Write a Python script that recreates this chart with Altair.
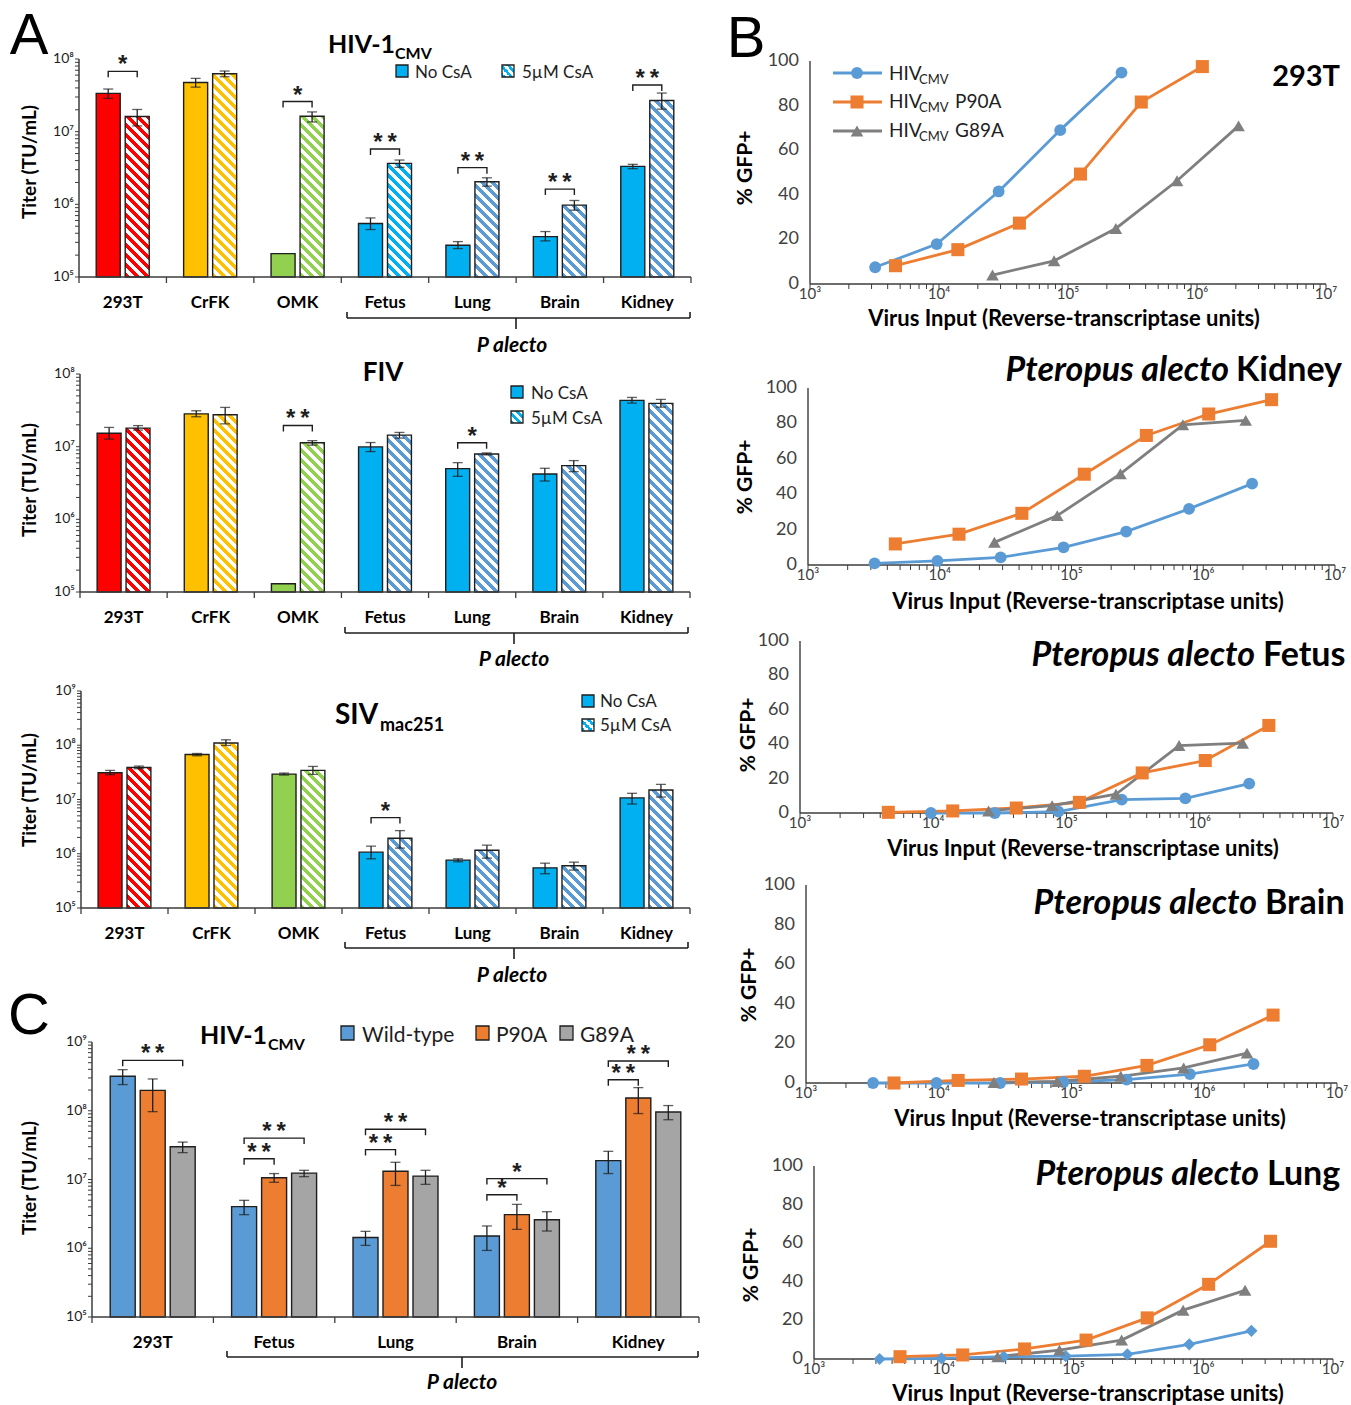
import math
import altair as alt
import pandas as pd

W, H = 1351, 1405
FONT = "Lato"
STAR_FONT = "Liberation Sans"
INK = "#1e1e1e"
AXIS_INK = "#3c3c3c"
SUP = "⁰¹²³⁴⁵⁶⁷⁸⁹"

# ------------------------------------------------------------------ panel A
cells_a = ["293T", "CrFK", "OMK", "Fetus", "Lung", "Brain", "Kidney"]
csa_groups = ["No CsA", "5µM CsA"]
solid_a = ["#FF0000", "#FFC000", "#92D050", "#00B0F0", "#00B0F0", "#00B0F0", "#00B0F0"]
hatch_hiv = ["#FF0000", "#FFC000", "#92D050", "#00B0F0", "#5B9BD5", "#5B9BD5", "#5B9BD5"]
hatch_other = ["#FF0000", "#FFC000", "#92D050", "#5B9BD5", "#5B9BD5", "#5B9BD5", "#5B9BD5"]

# HIV-1 CMV
hiv_no = [3.36e7, 4.76e7, 2.1e5, 5.45e5, 2.73e5, 3.6e5, 3.33e6]
hiv_no_lo = [2.87e7, 4.1e7, None, 4.5e5, 2.46e5, 3.14e5, 3.1e6]
hiv_no_hi = [3.86e7, 5.41e7, None, 6.5e5, 3.07e5, 4.22e5, 3.55e6]
hiv_csa = [1.62e7, 6.27e7, 1.63e7, 3.66e6, 2.05e6, 9.75e5, 2.69e7]
hiv_csa_lo = [1.2e7, 5.7e7, 1.36e7, 3.23e6, 1.78e6, 8.3e5, 2.04e7]
hiv_csa_hi = [2.02e7, 6.83e7, 1.87e7, 4.07e6, 2.32e6, 1.13e6, 3.4e7]
hiv_sig_cells = ["293T", "OMK", "Fetus", "Lung", "Brain", "Kidney"]
hiv_sig_marks = ["*", "*", "**", "**", "**", "**"]
hiv_sig_level = [6.76e7, 2.6e7, 5.78e6, 3.2e6, 1.62e6, 4.38e7]

# FIV
fiv_no = [1.53e7, 2.83e7, 1.3e5, 9.93e6, 4.99e6, 4.21e6, 4.33e7]
fiv_no_lo = [1.27e7, 2.58e7, None, 8.56e6, 3.91e6, 3.37e6, 3.98e7]
fiv_no_hi = [1.84e7, 3.12e7, None, 1.14e7, 6.03e6, 5.04e6, 4.76e7]
fiv_csa = [1.8e7, 2.75e7, 1.13e7, 1.44e7, 7.94e6, 5.48e6, 3.94e7]
fiv_csa_lo = [1.69e7, 2.06e7, 1.05e7, 1.31e7, 7.7e6, 4.53e6, 3.5e7]
fiv_csa_hi = [1.95e7, 3.47e7, 1.21e7, 1.57e7, 8.2e6, 6.43e6, 4.47e7]
fiv_sig_cells = ["OMK", "Lung"]
fiv_sig_marks = ["**", "*"]
fiv_sig_level = [1.96e7, 1.13e7]

# SIV mac251
siv_no = [3.11e7, 6.76e7, 2.94e7, 1.07e6, 7.62e5, 5.5e5, 1.07e7]
siv_no_lo = [2.86e7, 6.4e7, 2.82e7, 8.07e5, 7.1e5, 4.28e5, 8.26e6]
siv_no_hi = [3.44e7, 7.05e7, 3.07e7, 1.38e6, 8.07e5, 6.7e5, 1.3e7]
siv_csa = [3.9e7, 1.1e8, 3.44e7, 1.93e6, 1.16e6, 6.0e5, 1.5e7]
siv_csa_lo = [3.69e7, 9.9e7, 2.9e7, 1.27e6, 8.3e5, 5.0e5, 1.11e7]
siv_csa_hi = [4.13e7, 1.26e8, 4.07e7, 2.67e6, 1.44e6, 7.0e5, 1.9e7]
siv_sig_cells = ["Fetus"]
siv_sig_marks = ["*"]
siv_sig_level = [4.64e6]

# ------------------------------------------------------------------ panel C
cells_c = ["293T", "Fetus", "Lung", "Brain", "Kidney"]
capsid = ["Wild-type", "P90A", "G89A"]
capsid_colors = ["#5B9BD5", "#ED7D31", "#A5A5A5"]
wt_titer = [3.17e8, 4.03e6, 1.43e6, 1.51e6, 1.88e7]
wt_lo = [2.4e8, 3.08e6, 1.1e6, 9.3e5, 1.22e7]
wt_hi = [3.96e8, 4.98e6, 1.76e6, 2.11e6, 2.57e7]
p90a_titer = [1.98e8, 1.06e7, 1.32e7, 3.08e6, 1.53e8]
p90a_lo = [9.7e7, 9.1e6, 8.2e6, 1.88e6, 9.1e7]
p90a_hi = [2.9e8, 1.22e7, 1.78e7, 4.35e6, 2.17e8]
g89a_titer = [3.0e7, 1.24e7, 1.12e7, 2.6e6, 9.6e7]
g89a_lo = [2.46e7, 1.1e7, 8.5e6, 1.78e6, 7.4e7]
g89a_hi = [3.5e7, 1.36e7, 1.36e7, 3.4e6, 1.19e8]
c_sig_cells = ["293T", "Fetus", "Fetus", "Lung", "Lung", "Brain", "Brain", "Kidney", "Kidney"]
c_sig_to = ["G89A", "P90A", "G89A", "P90A", "G89A", "P90A", "G89A", "P90A", "G89A"]
c_sig_marks = ["**", "**", "**", "**", "**", "*", "*", "**", "**"]
c_sig_level = [5.41e8, 2.0e7, 4.0e7, 2.72e7, 5.37e7, 6.0e6, 1.03e7, 2.83e8, 5.3e8]

# ------------------------------------------------------------------ panel B
rt_wt = [3.2e3, 9.6e3, 2.9e4, 8.7e4, 2.6e5, 7.8e5, 2.35e6]
rt_p90 = [4.6e3, 1.4e4, 4.2e4, 1.25e5, 3.7e5, 1.1e6, 3.3e6]
rt_g89 = [2.6e4, 7.8e4, 2.35e5, 7.0e5, 2.1e6]

gfp_293t_wt = [7.5, 17.9, 41.5, 69.0, 94.8]
gfp_293t_p90 = [8.2, 15.4, 27.3, 49.3, 81.6, 97.5]
gfp_293t_g89 = [4.0, 10.4, 24.9, 46.3, 70.9]
gfp_kid_wt = [0.9, 2.3, 4.3, 10.0, 18.9, 31.7, 46.0]
gfp_kid_p90 = [11.9, 17.4, 29.2, 51.3, 73.2, 85.3, 93.4]
gfp_kid_g89 = [12.8, 27.9, 51.5, 79.2, 81.7]
gfp_fet_wt = [0.0, 0.0, 0.8, 7.8, 8.5, 17.1]
gfp_fet_p90 = [0.4, 1.2, 2.9, 6.2, 23.3, 30.5, 50.9]
gfp_fet_g89 = [1.2, 4.3, 10.9, 39.2, 40.6]
gfp_bra_wt = [0.0, 0.0, 0.0, 0.5, 1.7, 4.5, 9.6]
gfp_bra_p90 = [0.0, 1.3, 2.0, 3.4, 8.9, 19.3, 34.3]
gfp_bra_g89 = [0.3, 0.8, 3.4, 7.6, 15.1]
gfp_lun_wt = [0.0, 0.3, 1.2, 1.5, 2.4, 7.6, 14.6]
gfp_lun_p90 = [1.2, 2.1, 5.2, 9.8, 21.3, 38.7, 61.0]
gfp_lun_g89 = [1.2, 4.6, 9.8, 25.3, 35.6]

BLUE, ORANGE, GREY = "#5B9BD5", "#ED7D31", "#7F7F7F"


def hatch(color, w, h, period=10.0, duty=0.5):
    """Diagonal stripes (top-left to bottom-right) as a hard-stop linear gradient."""
    total = w + h
    k = total / (w * w + h * h)
    stops = []
    i = 0
    while i * period < total:
        a = i * period / total
        b = min((i + duty) * period / total, 1.0)
        c = min((i + 1) * period / total, 1.0)
        stops += [{"offset": a, "color": color}, {"offset": b, "color": color},
                  {"offset": b, "color": "white"}, {"offset": c, "color": "white"}]
        i += 1
    return {"gradient": "linear", "x1": 0, "y1": 1, "x2": k * w, "y2": 1 - k * h, "stops": stops}


def bar_panel(cats, groups, rows, brackets, geo):
    x0, x1 = geo["x"]
    ybot, ytop = geo["y"]
    dmin, dmax = geo["domain"]
    pin, pout = geo["pad"]
    step = (x1 - x0) / len(cats)
    sub = step / (len(groups) - pin + 2 * pout)
    bar_w = sub * (1 - pin)
    per_dec = (ybot - ytop) / (math.log10(dmax) - math.log10(dmin))

    xs = alt.Scale(domain=cats, range=[x0, x1], paddingInner=0, paddingOuter=0)
    ys = alt.Scale(type="log", domain=[dmin, dmax], range=[ybot, ytop], nice=False)
    offs = alt.Scale(domain=groups, paddingInner=pin, paddingOuter=pout)

    def ex(field="cat", band=None):
        if band is None:
            return alt.X(f"{field}:N", scale=xs, axis=None)
        return alt.X(f"{field}:N", scale=xs, axis=None, bandPosition=band)

    def eo(field="grp"):
        return alt.XOffset(f"{field}:N", scale=offs)

    def ey(field):
        return alt.Y(f"{field}:Q", scale=ys, axis=None)

    df = pd.DataFrame(rows)
    df["base"] = dmin
    layers = []
    solid = df[df["hatch"] == ""]
    layers.append(
        alt.Chart(solid).mark_bar(stroke=INK, strokeWidth=1.4).encode(
            x=ex(), xOffset=eo(), y=ey("v"), y2=alt.Y2("base:Q"),
            fill=alt.Fill("color:N", scale=None)))
    for r in df[df["hatch"] != ""].to_dict("records"):
        h = (math.log10(r["v"]) - math.log10(dmin)) * per_dec
        layers.append(
            alt.Chart(pd.DataFrame([r])).mark_bar(
                fill=hatch(r["hatch"], bar_w, h), stroke=INK, strokeWidth=1.4).encode(
                x=ex(), xOffset=eo(), y=ey("v"), y2=alt.Y2("base:Q")))

    # error bars
    err = df.dropna(subset=["lo"])
    layers.append(
        alt.Chart(err).mark_rule(color=INK, strokeWidth=1.3).encode(
            x=ex(), xOffset=eo(), y=ey("lo"), y2=alt.Y2("hi:Q")))
    caps = pd.concat([err[["cat", "grp"]].assign(yv=err["lo"]),
                      err[["cat", "grp"]].assign(yv=err["hi"])])
    layers.append(
        alt.Chart(caps).mark_tick(color=INK, thickness=1.3, size=10).encode(
            x=ex(), xOffset=eo(), y=ey("yv")))

    # significance brackets
    drop = 10 ** (6.0 / per_dec)
    pts, marks = [], []
    for i, (cat, g1, g2, level, label) in enumerate(brackets):
        for s, (g, yv) in enumerate([(g1, level / drop), (g1, level), (g2, level), (g2, level / drop)]):
            pts.append(dict(bid=i, seq=s, cat=cat, grp=g, yv=yv))
        marks.append(dict(cat=cat, g1=g1, lvl=level, mark=label.replace("**", "*\u2009*"),
                          span=groups.index(g2) - groups.index(g1)))
    layers.append(
        alt.Chart(pd.DataFrame(pts)).mark_line(color=INK, strokeWidth=1.4).encode(
            x=ex(), xOffset=eo(), y=ey("yv"), detail="bid:N", order="seq:Q"))
    mdf = pd.DataFrame(marks)
    for span in sorted(mdf["span"].unique()):
        part = mdf[mdf["span"] == span]
        layers.append(
            alt.Chart(part).mark_text(font=STAR_FONT, fontSize=24, fontWeight="bold", color=INK,
                                      baseline="alphabetic", dy=1, dx=float(span) * sub / 2).encode(
                x=ex(), xOffset=eo("g1"), y=ey("lvl"), text="mark:N"))

    # value axis: domain, log ticks, decade labels
    k_lo, k_hi = round(math.log10(dmin)), round(math.log10(dmax))
    tick_vals = [m * 10 ** k for k in range(k_lo, k_hi) for m in range(1, 10)] + [10 ** k_hi]
    dom = pd.DataFrame({"a": [dmin], "b": [dmax]})
    layers.append(alt.Chart(pd.DataFrame({"tv": tick_vals})).mark_rule(
        color=AXIS_INK, strokeWidth=1).encode(x=alt.value(x0 - 4), x2=alt.value(x0), y=ey("tv")))
    layers.append(alt.Chart(pd.DataFrame({
        "tv": [10 ** k for k in range(k_lo, k_hi + 1)],
        "txt": ["10" + SUP[k] for k in range(k_lo, k_hi + 1)]})).mark_text(
        font=FONT, fontSize=14, align="right", baseline="middle", color=INK).encode(
        x=alt.value(x0 - 5), y=ey("tv"), text="txt:N"))
    layers.append(alt.Chart(dom).mark_rule(color=AXIS_INK, strokeWidth=1.5).encode(
        x=alt.value(x0), y=ey("a"), y2=alt.Y2("b:Q")))
    layers.append(alt.Chart(dom).mark_rule(color=AXIS_INK, strokeWidth=1.5).encode(
        x=alt.value(x0), x2=alt.value(x1), y=ey("a")))

    # category axis: boundary ticks and labels
    cat_df = pd.DataFrame({"cat": cats})
    layers.append(alt.Chart(cat_df).mark_rule(color=AXIS_INK, strokeWidth=1.3).encode(
        x=ex(band=0), y=alt.value(ybot), y2=alt.value(ybot + 6)))
    layers.append(alt.Chart(cat_df.tail(1)).mark_rule(color=AXIS_INK, strokeWidth=1.3).encode(
        x=ex(band=1), y=alt.value(ybot), y2=alt.value(ybot + 6)))
    layers.append(alt.Chart(cat_df).mark_text(
        font=FONT, fontSize=17, fontWeight="bold", baseline="middle", color="black").encode(
        x=ex(), y=alt.value(geo["label_y"]), text="cat:N"))
    return alt.layer(*layers)


def csa_rows(no, no_lo, no_hi, csa, csa_lo, csa_hi, hatch_cols):
    rows = []
    for i, c in enumerate(cells_a):
        rows.append(dict(cat=c, grp=csa_groups[0], v=no[i], lo=no_lo[i], hi=no_hi[i],
                         color=solid_a[i], hatch=""))
        rows.append(dict(cat=c, grp=csa_groups[1], v=csa[i], lo=csa_lo[i], hi=csa_hi[i],
                         color="white", hatch=hatch_cols[i]))
    return rows


def csa_brackets(cells, marks, levels):
    return [(c, csa_groups[0], csa_groups[1], lv, m) for c, m, lv in zip(cells, marks, levels)]


panel_hiv = bar_panel(
    cells_a, csa_groups,
    csa_rows(hiv_no, hiv_no_lo, hiv_no_hi, hiv_csa, hiv_csa_lo, hiv_csa_hi, hatch_hiv),
    csa_brackets(hiv_sig_cells, hiv_sig_marks, hiv_sig_level),
    dict(x=(79, 691), y=(277, 59), domain=(1e5, 1e8), pad=(0.172, 0.593), label_y=303))
panel_fiv = bar_panel(
    cells_a, csa_groups,
    csa_rows(fiv_no, fiv_no_lo, fiv_no_hi, fiv_csa, fiv_csa_lo, fiv_csa_hi, hatch_other),
    csa_brackets(fiv_sig_cells, fiv_sig_marks, fiv_sig_level),
    dict(x=(80, 690), y=(592, 374), domain=(1e5, 1e8), pad=(0.172, 0.593), label_y=618))
panel_siv = bar_panel(
    cells_a, csa_groups,
    csa_rows(siv_no, siv_no_lo, siv_no_hi, siv_csa, siv_csa_lo, siv_csa_hi, hatch_other),
    csa_brackets(siv_sig_cells, siv_sig_marks, siv_sig_level),
    dict(x=(81, 690), y=(908, 691), domain=(1e5, 1e9), pad=(0.172, 0.593), label_y=934))

c_rows = []
for i, c in enumerate(cells_c):
    for g, col, v, lo, hi in zip(capsid, capsid_colors,
                                 [wt_titer[i], p90a_titer[i], g89a_titer[i]],
                                 [wt_lo[i], p90a_lo[i], g89a_lo[i]],
                                 [wt_hi[i], p90a_hi[i], g89a_hi[i]]):
        c_rows.append(dict(cat=c, grp=g, v=v, lo=lo, hi=hi, color=col, hatch=""))
c_brackets = [(c, "Wild-type", t, lv, m) for c, t, m, lv in zip(c_sig_cells, c_sig_to, c_sig_marks, c_sig_level)]
panel_c = bar_panel(cells_c, capsid, c_rows, c_brackets,
                    dict(x=(92, 699), y=(1317, 1042), domain=(1e5, 1e9), pad=(0.167, 0.607), label_y=1343))


def curve_panel(series, geo):
    x0, x1 = geo["x"]
    ybot, ytop = geo["y"]
    xs = alt.Scale(type="log", domain=[1e3, 1e7], range=[x0, x1], nice=False)
    ys = alt.Scale(domain=[0, 100], range=[ybot, ytop], nice=False, zero=False)
    rows = []
    for name, xv, yv, col, shape, size in series:
        for i, (a, b) in enumerate(zip(xv, yv)):
            rows.append(dict(series=name, i=i, rt=a, gfp=b, col=col, shape=shape, msize=size))
    df = pd.DataFrame(rows)

    def ex(field):
        return alt.X(f"{field}:Q", scale=xs, axis=None)

    def ey(field):
        return alt.Y(f"{field}:Q", scale=ys, axis=None)

    layers = []
    # axes
    x_ticks = [m * 10 ** k for k in range(3, 7) for m in range(1, 10)] + [10 ** 7]
    layers.append(alt.Chart(pd.DataFrame({"tv": x_ticks})).mark_rule(
        color=AXIS_INK, strokeWidth=1).encode(x=ex("tv"), y=alt.value(ybot), y2=alt.value(ybot + 5)))
    layers.append(alt.Chart(pd.DataFrame({
        "tv": [10 ** k for k in range(3, 8)],
        "txt": ["10" + SUP[k] for k in range(3, 8)]})).mark_text(
        font=FONT, fontSize=15, baseline="middle", color="#404040").encode(
        x=ex("tv"), y=alt.value(ybot + 10), text="txt:N"))
    layers.append(alt.Chart(pd.DataFrame({
        "pv": [0, 20, 40, 60, 80, 100],
        "txt": ["0", "20", "40", "60", "80", "100"]})).mark_text(
        font=FONT, fontSize=18, align="right", baseline="middle", color="#404040").encode(
        x=alt.value(x0 - 11), y=ey("pv"), text="txt:N"))
    dom = pd.DataFrame({"a": [1e3], "b": [1e7], "lo": [0], "hi": [100]})
    layers.append(alt.Chart(dom).mark_rule(color=AXIS_INK, strokeWidth=1.4).encode(
        x=ex("a"), x2=alt.X2("b:Q"), y=ey("lo")))
    layers.append(alt.Chart(dom).mark_rule(color=AXIS_INK, strokeWidth=1.4).encode(
        x=ex("a"), y=ey("lo"), y2=alt.Y2("hi:Q")))
    # curves
    layers.append(alt.Chart(df).mark_line(strokeWidth=2.8).encode(
        x=ex("rt"), y=ey("gfp"), stroke=alt.Stroke("col:N", scale=None),
        detail="series:N", order="i:Q"))
    layers.append(alt.Chart(df).mark_point(filled=True, opacity=1, strokeWidth=0).encode(
        x=ex("rt"), y=ey("gfp"),
        shape=alt.Shape("shape:N", scale=None), fill=alt.Fill("col:N", scale=None),
        size=alt.Size("msize:Q", scale=None)))
    return alt.layer(*layers)


def trio(wt_x, wt_y, p_x, p_y, g_x, g_y, wt_shape="circle"):
    return [("HIVCMV", wt_x, wt_y, BLUE, wt_shape, 140 if wt_shape == "circle" else 150),
            ("HIVCMV P90A", p_x, p_y, ORANGE, "square", 170),
            ("HIVCMV G89A", g_x, g_y, GREY, "triangle-up", 160)]


panel_b1 = curve_panel(trio(rt_wt[:5], gfp_293t_wt, rt_p90[:6], gfp_293t_p90, rt_g89, gfp_293t_g89),
                       dict(x=(810, 1326), y=(284, 61)))
panel_b2 = curve_panel(trio(rt_wt, gfp_kid_wt, rt_p90, gfp_kid_p90, rt_g89, gfp_kid_g89),
                       dict(x=(808, 1335), y=(565, 388)))
panel_b3 = curve_panel(trio(rt_wt[1:], gfp_fet_wt, rt_p90, gfp_fet_p90, rt_g89, gfp_fet_g89),
                       dict(x=(800, 1333), y=(813, 641)))
panel_b4 = curve_panel(trio(rt_wt, gfp_bra_wt, rt_p90, gfp_bra_p90, rt_g89, gfp_bra_g89),
                       dict(x=(806, 1337), y=(1083, 885)))
panel_b5 = curve_panel(trio(rt_wt, gfp_lun_wt, rt_p90, gfp_lun_p90, rt_g89, gfp_lun_g89, "diamond"),
                       dict(x=(814, 1333), y=(1359, 1166)))


# ------------------------------------------------------------------ annotations
def text_layer(items, weight="normal", style="normal", align="left", baseline="alphabetic",
               font=FONT, color=INK):
    df = pd.DataFrame(items, columns=["px", "py", "label", "fs", "rot"])
    return alt.Chart(df).mark_text(font=font, fontWeight=weight, fontStyle=style, align=align,
                                   baseline=baseline, color=color).encode(
        x=alt.X("px:Q", scale=None, axis=None), y=alt.Y("py:Q", scale=None, axis=None),
        text="label:N", size=alt.Size("fs:Q", scale=None), angle=alt.Angle("rot:Q", scale=None))


def rule_layer(items, width=1.5):
    df = pd.DataFrame(items, columns=["ax", "bx", "ay", "by", "col"])
    return alt.Chart(df).mark_rule(strokeWidth=width).encode(
        x=alt.X("ax:Q", scale=None, axis=None), x2="bx:Q",
        y=alt.Y("ay:Q", scale=None, axis=None), y2="by:Q",
        stroke=alt.Stroke("col:N", scale=None))


def brace(xa, xb, xc, y):
    return [(xa, xb, y, y, INK), (xa, xa, y - 6, y, INK), (xb, xb, y - 6, y, INK),
            (xc, xc, y, y + 11, INK)]


VIRUS_INPUT = "Virus Input (Reverse-transcriptase units)"
TITER = "Titer (TU/mL)"

letters = text_layer([(29, 54, "A", 58, 0), (746, 57, "B", 58, 0), (29, 1034, "C", 58, 0)],
                     align="center", font="Liberation Sans", color="black")
bold_left = text_layer([
    (328, 53, "HIV-1", 25, 0), (395, 59, "CMV", 16, 0),
    (335, 724, "SIV", 28, 0), (380, 731, "mac251", 18, 0),
    (200, 1044, "HIV-1", 25, 0), (268, 1050, "CMV", 16, 0),
    (1236, 381, "Kidney", 34, 0), (1263, 666, "Fetus", 34, 0),
    (1265, 914, "Brain", 34, 0), (1267, 1185, "Lung", 34, 0),
], weight="bold", color="black")
bold_center = text_layer([
    (383, 381, "FIV", 26, 0),
    (1064, 326, VIRUS_INPUT, 22, 0), (1088, 609, VIRUS_INPUT, 22, 0),
    (1083, 856, VIRUS_INPUT, 22, 0), (1090, 1126, VIRUS_INPUT, 22, 0),
    (1088, 1401, VIRUS_INPUT, 22, 0),
], weight="bold", align="center", color="black")
bold_right = text_layer([(1340, 86, "293T", 29, 0)], weight="bold", align="right", color="black")
italic_right = text_layer([
    (1229, 381, "Pteropus alecto", 34, 0), (1255, 666, "Pteropus alecto", 34, 0),
    (1257, 914, "Pteropus alecto", 34, 0), (1259, 1185, "Pteropus alecto", 34, 0),
], weight="bold", style="italic", align="right", color="black")
italic_center = text_layer([
    (512, 352, "P alecto", 21, 0), (514, 666, "P alecto", 21, 0),
    (512, 982, "P alecto", 21, 0), (462, 1389, "P alecto", 21, 0),
], weight="bold", style="italic", align="center", color="black")
legend_text = text_layer([
    (415, 78, "No CsA", 17, 0), (522, 78, "5µM CsA", 17, 0),
    (531, 399, "No CsA", 17, 0), (531, 424, "5µM CsA", 17, 0),
    (600, 707, "No CsA", 17, 0), (600, 731, "5µM CsA", 17, 0),
    (362, 1042, "Wild-type", 21, 0), (496, 1042, "P90A", 21, 0), (580, 1042, "G89A", 21, 0),
    (889, 80, "HIV", 19, 0), (919, 84, "CMV", 13, 0),
    (889, 108, "HIV", 19, 0), (919, 112, "CMV", 13, 0), (955, 108, "P90A", 19, 0),
    (889, 137, "HIV", 19, 0), (919, 141, "CMV", 13, 0), (955, 137, "G89A", 19, 0),
])
rotated = text_layer([
    (30, 162, TITER, 19, 270), (30, 480, TITER, 19, 270),
    (30, 790, TITER, 19, 270), (30, 1178, TITER, 19, 270),
    (746, 168, "% GFP+", 21, 270), (746, 477, "% GFP+", 21, 270),
    (749, 735, "% GFP+", 21, 270), (750, 985, "% GFP+", 21, 270),
    (752, 1265, "% GFP+", 21, 270),
], weight="bold", align="center", baseline="middle", color="black")

braces = rule_layer(brace(347, 690, 516, 318) + brace(345, 688, 514, 633)
                    + brace(345, 688, 514, 948) + brace(227, 698, 462, 1357), width=1.6)
legend_lines = rule_layer([(833, 882, 73, 73, BLUE), (833, 882, 102, 102, ORANGE),
                           (833, 882, 131, 131, GREY)], width=2.8)
legend_marks = alt.Chart(pd.DataFrame([
    dict(px=857, py=73, shape="circle", col=BLUE, msize=140),
    dict(px=857, py=102, shape="square", col=ORANGE, msize=170),
    dict(px=857, py=131, shape="triangle-up", col=GREY, msize=160),
])).mark_point(filled=True, opacity=1, strokeWidth=0).encode(
    x=alt.X("px:Q", scale=None, axis=None), y=alt.Y("py:Q", scale=None, axis=None),
    shape=alt.Shape("shape:N", scale=None), fill=alt.Fill("col:N", scale=None),
    size=alt.Size("msize:Q", scale=None))

swatches = alt.Chart(pd.DataFrame([
    dict(ax=396, bx=408, ay=65, by=77, col="#00B0F0"),
    dict(ax=511, bx=523, ay=386, by=398, col="#00B0F0"),
    dict(ax=582, bx=594, ay=695, by=707, col="#00B0F0"),
    dict(ax=341, bx=354, ay=1026, by=1040, col=capsid_colors[0]),
    dict(ax=476, bx=489, ay=1026, by=1040, col=capsid_colors[1]),
    dict(ax=560, bx=573, ay=1026, by=1040, col=capsid_colors[2]),
])).mark_rect(stroke=INK, strokeWidth=1.3).encode(
    x=alt.X("ax:Q", scale=None, axis=None), x2="bx:Q",
    y=alt.Y("ay:Q", scale=None, axis=None), y2="by:Q", fill=alt.Fill("col:N", scale=None))
hatched_swatches = alt.Chart(pd.DataFrame([
    dict(ax=502, bx=514, ay=65, by=77),
    dict(ax=511, bx=523, ay=411, by=423),
    dict(ax=582, bx=594, ay=719, by=731),
])).mark_rect(fill=hatch("#00B0F0", 12, 12, period=8), stroke=INK, strokeWidth=1.3).encode(
    x=alt.X("ax:Q", scale=None, axis=None), x2="bx:Q",
    y=alt.Y("ay:Q", scale=None, axis=None), y2="by:Q")

chart = alt.layer(
    panel_hiv, panel_fiv, panel_siv, panel_c,
    panel_b1, panel_b2, panel_b3, panel_b4, panel_b5,
    braces, legend_lines, legend_marks, swatches, hatched_swatches,
    letters, bold_left, bold_center, bold_right, italic_right, italic_center,
    legend_text, rotated,
).resolve_scale(
    x="independent", y="independent", xOffset="independent"
).properties(
    width=W, height=H, padding=0, background="white",
    autosize=alt.AutoSizeParams(type="none"),
).configure_view(strokeWidth=0)

chart.save("out.html", embed_options={"renderer": "svg", "actions": False})
